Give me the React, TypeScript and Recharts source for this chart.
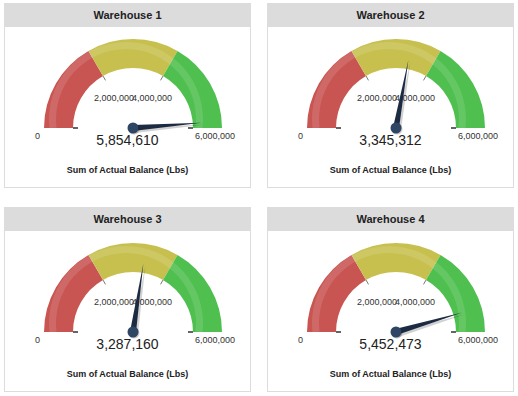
import { PieChart, Pie, Cell } from 'recharts';

const TITLES = ['Warehouse 1', 'Warehouse 2', 'Warehouse 3', 'Warehouse 4'];
const VALUES = [5854610, 3345312, 3287160, 5452473];
const TICK_VALUES = [0, 2000000, 4000000, 6000000];
const BAND_COLORS = ['#c95552', '#c7c04f', '#4fc04f'];
const SUBTITLE = 'Sum of Actual Balance (Lbs)';

const MAX = TICK_VALUES[TICK_VALUES.length - 1];
const FONT = 'Arial, "Liberation Sans", sans-serif';

const PANEL_W = 247;
const PANEL_H = 185;
const CX = 123;
const CY = 119;
const INNER = 60;
const OUTER = 89;
const NEEDLE = 69;

const bands = TICK_VALUES.slice(1).map((t, i) => ({ name: `band-${i}`, value: t - TICK_VALUES[i] }));

const fmt = (v: number) => v.toLocaleString('en-US');

function polar(cx: number, cy: number, r: number, deg: number) {
    const rad = (deg * Math.PI) / 180;
    return { x: cx + r * Math.cos(rad), y: cy - r * Math.sin(rad) };
}

function Tick({ cx, cy, angle, label }: { cx: number; cy: number; angle: number; label: string }) {
    const a = polar(cx, cy, INNER - 5, angle);
    const b = polar(cx, cy, INNER, angle);
    const edge = angle === 180 || angle === 0;
    let tx = cx + Math.cos((angle * Math.PI) / 180) * 38;
    let ty = cy - 27;
    let anchor: 'start' | 'middle' | 'end' = 'middle';
    if (angle === 180) { tx = cx - 93; ty = cy + 11; anchor = 'end'; }
    if (angle === 0) { tx = cx + 62; ty = cy + 11; anchor = 'start'; }
    return (
        <g>
            <line x1={a.x} y1={a.y} x2={b.x} y2={b.y} stroke={edge ? '#333' : '#777'} strokeWidth={edge ? 1.5 : 1} />
            <text x={tx} y={ty} textAnchor={anchor} fontSize={9} fill="#333" fontFamily={FONT}>{label}</text>
        </g>
    );
}

function bandLabel(props: any) {
    const { cx, cy, startAngle, endAngle, index } = props;
    return (
        <g key={`tick-${index}`}>
            <Tick cx={cx} cy={cy} angle={startAngle} label={fmt(TICK_VALUES[index])} />
            {index === bands.length - 1 && <Tick cx={cx} cy={cy} angle={endAngle} label={fmt(TICK_VALUES[index + 1])} />}
        </g>
    );
}

function needleLabel(props: any) {
    const { cx, cy, endAngle, index } = props;
    if (index !== 0) return <g key="n-empty" />;
    const tip = polar(cx, cy, NEEDLE, endAngle);
    const l = polar(cx, cy, 3, endAngle + 90);
    const r = polar(cx, cy, 3, endAngle - 90);
    const pts = `${tip.x},${tip.y} ${l.x},${l.y} ${r.x},${r.y}`;
    const shadow = `${tip.x + 2},${tip.y + 2} ${l.x + 2},${l.y + 2} ${r.x + 2},${r.y + 2}`;
    return (
        <g key="needle">
            <polygon points={shadow} fill="rgba(0,0,0,0.18)" />
            <polygon points={pts} fill="#1d2b42" />
            <circle cx={cx + 1} cy={cy + 1} r={5.5} fill="rgba(0,0,0,0.2)" />
            <circle cx={cx} cy={cy} r={5.5} fill="#2e4563" />
        </g>
    );
}

function Gauge({ title, value, left, top }: { title: string; value: number; left: number; top: number }) {
    const needleData = [{ name: 'value', value }, { name: 'rest', value: MAX - value }];
    return (
        <div style={{ position: 'absolute', left, top, width: PANEL_W, height: PANEL_H, border: '1px solid #dcdcdc', boxSizing: 'border-box', background: '#fff', fontFamily: FONT }}>
            <div style={{ height: 23, background: '#dcdcdc', textAlign: 'center', lineHeight: '23px', fontSize: 11, fontWeight: 'bold', color: '#222' }}>{title}</div>
            <div style={{ position: 'absolute', left: 0, top: 0 }}>
                <PieChart width={PANEL_W - 2} height={PANEL_H - 2}>
                    <Pie data={bands} dataKey="value" cx={CX} cy={CY} startAngle={180} endAngle={0} innerRadius={INNER} outerRadius={OUTER}
                        stroke="none" isAnimationActive={false} label={bandLabel} labelLine={false}>
                        {bands.map((b, i) => <Cell key={b.name} fill={BAND_COLORS[i]} />)}
                    </Pie>
                    <Pie data={[{ name: 'shine', value: 1 }]} dataKey="value" cx={CX - 7} cy={CY - 9} startAngle={187} endAngle={-7}
                        innerRadius={70} outerRadius={77} fill="#ffffff" fillOpacity={0.12} stroke="none" isAnimationActive={false} />
                    <Pie data={needleData} dataKey="value" cx={CX} cy={CY} startAngle={180} endAngle={0} innerRadius={0} outerRadius={NEEDLE}
                        fill="none" stroke="none" isAnimationActive={false} label={needleLabel} labelLine={false}>
                        {needleData.map((d) => <Cell key={d.name} fill="none" stroke="none" />)}
                    </Pie>
                </PieChart>
            </div>
            <div style={{ position: 'absolute', left: 0, width: '100%', top: 128, textAlign: 'center', fontSize: 14, color: '#222' }}>{fmt(value)}</div>
            <div style={{ position: 'absolute', left: 0, width: '100%', top: 161, textAlign: 'center', fontSize: 9, fontWeight: 'bold', color: '#222' }}>{SUBTITLE}</div>
        </div>
    );
}

const POSITIONS = [
    { left: 4, top: 3 },
    { left: 267, top: 3 },
    { left: 4, top: 207 },
    { left: 267, top: 207 },
];

export default function App() {
    return (
        <div style={{ position: 'absolute', left: 0, top: 0, width: 518, height: 396, background: '#fff' }}>
            {TITLES.map((t, i) => (
                <Gauge key={t} title={t} value={VALUES[i]} left={POSITIONS[i].left} top={POSITIONS[i].top} />
            ))}
        </div>
    );
}
